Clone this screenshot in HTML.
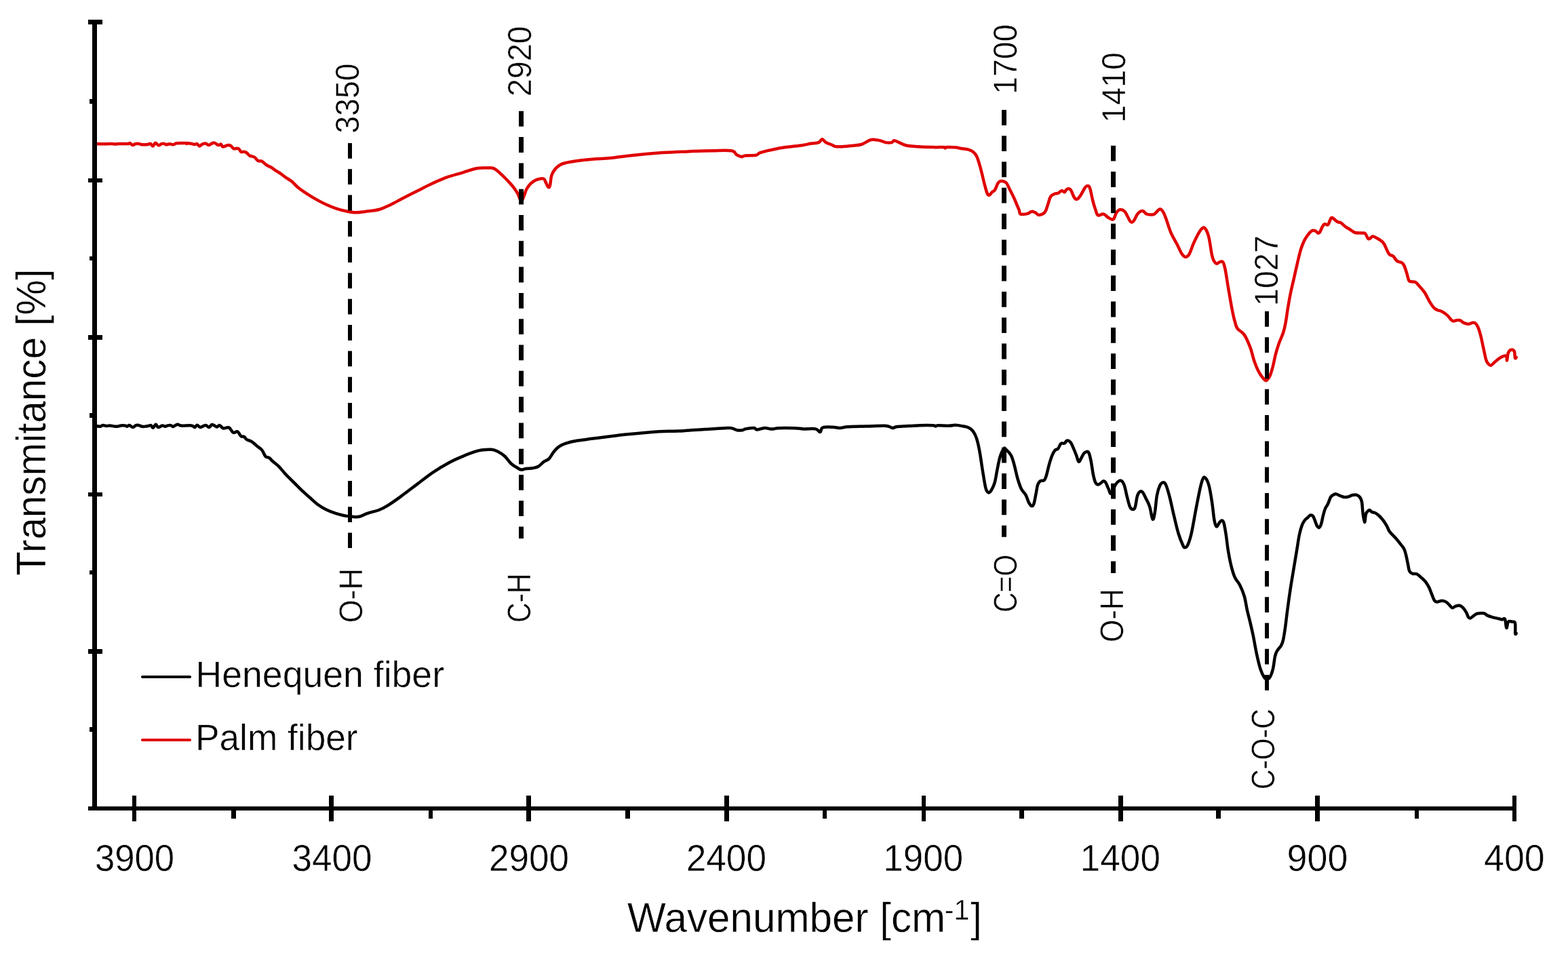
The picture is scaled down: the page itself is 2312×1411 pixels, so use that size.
<!DOCTYPE html>
<html lang="en"><head><meta charset="utf-8"><title>FTIR spectra of henequen and palm fiber</title>
<style>html,body{margin:0;padding:0;background:#fff}svg{display:block}text{font-family:'Liberation Sans', sans-serif;fill:#000;stroke:#fff;stroke-width:0.5;paint-order:fill stroke;text-rendering:geometricPrecision}</style></head><body>
<svg width="2312" height="1411" viewBox="0 0 2312 1411">
<rect width="2312" height="1411" fill="#fff"/>
<path d="M141.1 628.1C142.4 628.2 146.1 629.0 148.0 628.8C149.9 628.6 149.7 627.2 151.5 627.1C153.3 627.0 155.8 628.0 157.7 628.1C159.6 628.2 159.5 627.3 161.8 627.4C164.1 627.5 167.8 628.6 170.1 628.8C172.4 629.0 172.8 628.8 174.3 628.5C175.8 628.2 176.4 627.6 178.4 627.4C180.4 627.2 183.8 627.3 185.4 627.6C187.1 627.9 186.4 628.9 187.4 628.8C188.4 628.7 189.4 626.9 190.9 627.1C192.4 627.3 193.9 629.9 195.7 629.9C197.5 629.9 198.9 627.6 200.6 627.1C202.2 626.6 203.0 626.8 204.7 627.1C206.3 627.4 207.6 628.5 209.6 628.8C211.6 629.1 213.9 628.7 215.8 628.5C217.7 628.3 218.7 627.9 220.0 627.6C221.3 627.3 221.7 626.5 222.7 627.1C223.7 627.7 224.2 631.1 225.5 630.8C226.8 630.5 228.3 625.8 229.7 625.7C231.1 625.6 231.3 629.8 233.1 630.1C234.9 630.4 237.4 627.6 239.3 627.4C241.2 627.2 242.0 628.8 243.5 628.8C245.0 628.8 246.1 627.7 247.6 627.4C249.1 627.1 250.4 626.8 251.8 627.1C253.2 627.4 253.5 629.3 255.3 629.0C257.1 628.7 259.4 626.0 261.5 625.7C263.6 625.4 263.2 627.3 267.0 627.6C270.8 627.9 278.5 626.9 282.2 627.4C285.9 627.9 285.6 630.2 287.1 630.1C288.6 630.0 289.1 626.7 290.6 626.7C292.1 626.7 293.1 629.8 295.4 629.9C297.7 630.0 300.6 627.1 303.0 627.1C305.4 627.1 306.7 630.1 308.5 629.9C310.3 629.7 310.7 626.1 312.7 626.0C314.7 625.9 317.6 629.2 319.6 629.4C321.6 629.6 322.0 626.7 323.8 627.1C325.6 627.5 326.8 630.9 329.3 631.5C331.8 632.1 334.9 629.2 337.6 630.4C340.3 631.6 341.5 636.7 343.8 637.8C346.1 638.9 347.9 635.4 350.1 636.4C352.3 637.4 353.8 642.0 355.6 643.3C357.4 644.6 358.3 642.8 359.8 643.7C361.3 644.6 361.9 646.8 363.9 648.1C365.9 649.4 368.0 649.1 370.8 650.9C373.6 652.7 376.3 655.5 379.1 657.8C381.9 660.1 383.8 660.6 386.1 663.4C388.4 666.2 389.6 670.9 391.6 673.0C393.6 675.1 395.1 673.7 397.1 675.1C399.1 676.5 400.2 678.4 402.7 680.7C405.2 683.0 407.7 684.3 411.0 687.6C414.3 690.9 416.7 694.4 420.7 698.7C424.7 703.0 428.4 706.4 432.8 710.8C437.2 715.2 440.5 718.7 444.9 722.9C449.3 727.1 452.6 729.9 457.0 733.8C461.4 737.7 464.7 741.0 469.1 744.2C473.5 747.4 476.8 749.3 481.2 751.5C485.6 753.7 488.9 754.8 493.3 756.3C497.7 757.8 501.0 758.7 505.4 759.7C509.8 760.7 513.0 761.3 517.5 761.7C522.0 762.1 525.2 762.6 529.7 761.7C534.2 760.8 536.5 758.6 541.8 756.8C547.1 755.0 553.4 754.0 558.7 752.0C564.0 750.0 565.0 749.5 570.8 745.9C576.6 742.3 582.2 738.4 590.2 732.6C598.2 726.8 605.5 721.1 614.4 714.4C623.3 707.7 629.7 702.3 638.6 696.3C647.5 690.3 655.1 685.9 662.9 681.7C670.7 677.5 674.6 676.0 681.1 673.3C687.6 670.5 692.8 668.5 698.1 666.7C703.4 664.9 705.3 664.3 710.2 663.6C715.1 662.9 720.3 662.4 724.7 662.8C729.1 663.2 730.8 664.2 734.4 666.0C738.0 667.8 740.5 669.3 744.1 672.5C747.7 675.7 750.2 680.5 753.8 683.7C757.4 686.9 760.8 688.6 763.5 690.2C766.2 691.8 766.6 692.5 768.8 692.6C771.0 692.7 772.6 691.3 775.6 690.9C778.6 690.5 782.0 690.8 785.3 690.2C788.6 689.6 790.6 689.6 793.7 687.8C796.8 686.0 799.3 682.6 802.2 680.5C805.1 678.4 806.8 679.1 809.5 676.4C812.2 673.7 814.0 669.2 816.7 666.0C819.4 662.8 820.9 660.9 824.0 658.7C827.1 656.5 828.8 655.5 833.7 653.9C838.6 652.3 843.1 651.1 850.7 649.8C858.3 648.5 861.6 648.3 874.9 646.6C888.2 644.9 905.5 642.5 923.3 640.6C941.1 638.7 957.7 637.1 971.8 636.2C985.9 635.3 987.7 636.1 1000.0 635.5C1012.3 634.9 1025.7 633.8 1038.9 633.0C1052.1 632.2 1064.5 631.3 1072.0 631.0C1079.5 630.7 1076.9 631.0 1079.8 631.6C1082.7 632.2 1084.7 634.0 1087.6 634.4C1090.5 634.8 1093.3 634.4 1095.4 634.0C1097.5 633.6 1096.3 632.9 1099.3 632.4C1102.3 631.9 1108.8 630.8 1111.9 631.0C1115.0 631.2 1113.3 633.6 1116.2 633.6C1119.1 633.6 1123.5 631.2 1127.5 631.0C1131.5 630.8 1134.5 632.6 1138.2 632.6C1141.9 632.6 1141.8 631.5 1147.9 631.2C1154.0 630.9 1164.5 631.0 1171.3 631.2C1178.1 631.4 1179.2 632.2 1184.9 632.4C1190.6 632.6 1197.9 631.6 1202.4 632.4C1206.9 633.2 1207.2 637.2 1209.2 636.9C1211.2 636.6 1209.7 631.8 1213.1 630.5C1216.5 629.2 1222.9 629.6 1227.7 629.7C1232.5 629.8 1235.5 631.1 1239.4 631.0C1243.3 630.9 1242.3 629.8 1249.1 629.3C1255.9 628.8 1266.4 628.8 1276.4 628.5C1286.4 628.2 1297.2 627.6 1303.6 627.7C1310.0 627.8 1309.1 628.5 1311.4 629.1C1313.7 629.7 1314.2 631.0 1316.3 631.0C1318.4 631.0 1318.6 629.6 1323.1 629.1C1327.6 628.6 1334.5 628.4 1340.6 628.1C1346.7 627.8 1349.8 627.4 1356.2 627.2C1362.6 627.0 1371.3 627.0 1375.6 627.2C1379.9 627.4 1378.1 628.5 1379.5 628.5C1380.9 628.5 1379.8 627.3 1383.4 627.2C1387.0 627.1 1394.4 627.8 1399.0 627.7C1403.6 627.6 1405.1 626.7 1408.7 626.8C1412.3 626.9 1414.9 627.4 1418.5 628.1C1422.1 628.8 1425.2 629.1 1428.2 630.5C1431.2 631.9 1432.4 632.8 1434.6 635.7C1436.8 638.6 1438.2 641.1 1440.0 646.5C1441.8 651.9 1442.7 656.4 1444.3 664.9C1445.9 673.4 1447.1 683.3 1448.7 693.0C1450.3 702.7 1451.7 712.0 1453.0 717.9C1454.3 723.8 1454.7 723.5 1455.8 725.0C1456.9 726.5 1457.5 726.8 1458.8 726.1C1460.1 725.4 1461.2 724.0 1462.7 721.1C1464.2 718.2 1465.6 715.5 1467.0 710.3C1468.4 705.1 1468.9 699.7 1470.3 693.0C1471.7 686.3 1472.8 679.3 1474.6 673.5C1476.4 667.7 1478.4 663.6 1480.0 661.6C1481.6 659.6 1481.3 660.9 1483.3 662.7C1485.3 664.5 1488.6 667.4 1490.8 671.4C1493.0 675.4 1493.4 678.0 1495.2 684.3C1497.0 690.6 1498.6 699.3 1500.6 706.0C1502.6 712.7 1503.8 716.7 1506.0 721.1C1508.2 725.5 1510.5 726.2 1512.5 729.8C1514.5 733.4 1515.2 737.6 1516.8 740.6C1518.4 743.6 1519.7 745.6 1521.1 746.0C1522.5 746.4 1523.2 746.1 1524.4 742.7C1525.6 739.3 1526.5 732.8 1527.6 727.6C1528.7 722.4 1529.0 718.0 1530.2 714.6C1531.4 711.2 1532.4 710.4 1534.1 709.2C1535.8 708.0 1537.9 709.5 1539.5 708.1C1541.1 706.7 1541.3 706.0 1542.7 701.6C1544.1 697.2 1545.5 689.8 1547.1 684.3C1548.7 678.8 1549.8 675.2 1551.4 671.4C1553.0 667.6 1554.1 665.6 1555.7 663.8C1557.3 662.0 1558.4 663.4 1560.0 661.6C1561.6 659.8 1562.6 655.6 1564.4 654.1C1566.2 652.6 1568.2 654.4 1569.8 653.6C1571.4 652.8 1571.4 650.0 1573.0 649.7C1574.6 649.4 1576.6 649.9 1578.4 651.9C1580.2 653.9 1581.1 657.0 1582.7 660.6C1584.3 664.2 1585.7 667.8 1587.1 671.4C1588.5 675.0 1589.1 679.5 1590.3 680.5C1591.5 681.5 1592.2 678.9 1593.6 676.8C1595.0 674.7 1596.3 670.8 1597.9 668.8C1599.5 666.8 1600.8 666.2 1602.2 666.0C1603.6 665.8 1604.2 664.9 1605.4 667.5C1606.6 670.1 1607.5 674.1 1608.7 680.0C1609.9 685.9 1610.7 693.7 1611.9 699.5C1613.1 705.3 1613.9 708.6 1615.2 711.4C1616.5 714.2 1617.5 714.4 1618.9 714.6C1620.3 714.8 1621.3 713.5 1622.8 712.5C1624.3 711.5 1625.7 709.4 1627.1 709.2C1628.5 709.0 1628.9 709.2 1630.3 711.4C1631.7 713.6 1633.1 718.1 1634.6 721.1C1636.1 724.1 1636.4 728.8 1638.3 727.6C1640.2 726.4 1642.3 718.1 1644.8 714.6C1647.3 711.1 1649.6 708.6 1651.9 708.6C1654.2 708.6 1655.6 710.3 1657.4 714.6C1659.2 718.9 1660.1 725.9 1661.7 731.9C1663.3 737.9 1664.5 743.6 1666.0 747.1C1667.5 750.6 1668.5 750.8 1669.9 751.0C1671.3 751.2 1672.3 751.6 1673.6 748.1C1674.9 744.6 1675.6 736.1 1676.8 731.9C1678.0 727.7 1678.7 726.6 1680.1 725.4C1681.5 724.2 1682.6 723.6 1684.4 725.4C1686.2 727.2 1687.8 731.2 1689.8 735.2C1691.8 739.2 1693.4 741.6 1695.2 747.1C1697.0 752.6 1698.1 763.8 1699.5 765.4C1700.9 767.0 1701.6 762.2 1702.8 755.7C1704.0 749.2 1704.6 737.1 1706.0 729.8C1707.4 722.5 1708.7 719.1 1710.3 715.7C1711.9 712.3 1713.1 711.6 1714.7 711.4C1716.3 711.2 1717.2 710.8 1719.0 714.6C1720.8 718.4 1722.2 723.6 1724.4 731.9C1726.6 740.2 1728.5 750.1 1730.9 760.0C1733.3 769.9 1735.0 778.1 1737.4 786.0C1739.8 793.9 1742.1 799.4 1743.9 803.3C1745.7 807.2 1745.7 807.2 1747.1 807.2C1748.5 807.2 1749.6 807.2 1751.4 803.3C1753.2 799.4 1754.6 795.5 1756.8 786.0C1759.0 776.5 1760.9 763.7 1763.3 751.4C1765.7 739.1 1767.8 727.4 1769.8 718.9C1771.8 710.4 1772.5 707.3 1774.1 704.9C1775.7 702.5 1776.9 703.8 1778.5 706.0C1780.1 708.2 1781.2 710.5 1782.8 716.8C1784.4 723.1 1785.7 731.5 1787.1 740.6C1788.5 749.7 1789.2 760.0 1790.4 766.5C1791.6 773.0 1792.2 775.5 1793.6 776.3C1795.0 777.1 1796.5 772.4 1797.9 770.8C1799.3 769.2 1800.0 767.6 1801.2 767.6C1802.4 767.6 1803.2 767.0 1804.4 770.8C1805.6 774.6 1806.5 780.6 1807.7 788.1C1808.9 795.6 1809.5 803.6 1810.9 811.9C1812.3 820.2 1813.4 826.5 1815.2 833.6C1817.0 840.8 1818.2 845.5 1820.6 850.9C1823.0 856.3 1825.6 857.6 1828.2 862.8C1830.8 868.0 1832.7 872.2 1834.7 879.0C1836.7 885.8 1837.4 893.0 1839.0 900.0C1840.6 907.0 1841.7 910.6 1843.3 917.3C1844.9 924.0 1845.9 928.1 1847.7 936.8C1849.5 945.5 1851.1 955.8 1853.1 964.9C1855.1 974.0 1856.5 980.4 1858.5 986.5C1860.5 992.6 1862.1 995.7 1863.9 998.4C1865.7 1001.1 1866.6 1001.2 1868.2 1001.2C1869.8 1001.2 1870.9 1001.1 1872.5 998.4C1874.1 995.7 1875.5 992.1 1876.9 986.5C1878.3 980.9 1878.9 972.7 1880.0 967.8C1881.1 962.9 1881.3 962.7 1883.0 959.8C1884.7 956.9 1887.3 954.7 1889.0 951.8C1890.7 948.9 1890.9 948.6 1892.0 943.8C1893.1 939.0 1893.9 933.5 1895.0 925.8C1896.1 918.1 1896.9 910.2 1898.0 901.8C1899.1 893.4 1899.9 887.5 1901.0 879.8C1902.1 872.1 1902.7 867.9 1904.0 859.9C1905.3 851.9 1906.5 844.7 1908.0 835.9C1909.5 827.1 1910.5 820.7 1912.0 811.9C1913.5 803.1 1914.5 794.9 1916.0 787.9C1917.5 780.9 1918.5 777.8 1920.0 773.9C1921.5 770.0 1922.3 769.0 1924.0 766.9C1925.7 764.8 1927.5 763.7 1929.0 762.3C1930.5 760.9 1931.0 759.7 1932.3 759.5C1933.6 759.3 1934.8 759.5 1936.0 761.0C1937.2 762.5 1937.9 765.2 1939.0 767.9C1940.1 770.6 1940.9 773.7 1942.0 775.5C1943.1 777.3 1943.9 778.4 1945.0 777.9C1946.1 777.4 1946.9 776.2 1948.0 772.9C1949.1 769.6 1949.9 764.1 1951.0 759.9C1952.1 755.7 1952.7 753.1 1954.0 750.0C1955.3 746.9 1956.5 746.1 1958.0 743.0C1959.5 739.9 1960.5 735.5 1962.0 733.0C1963.5 730.5 1964.5 730.4 1966.0 729.6C1967.5 728.8 1968.2 728.1 1970.0 728.4C1971.8 728.7 1973.8 730.2 1976.0 731.0C1978.2 731.8 1979.8 732.7 1982.0 733.0C1984.2 733.3 1985.8 732.9 1988.0 732.4C1990.2 731.9 1991.8 730.5 1994.0 730.0C1996.2 729.5 1998.0 729.1 2000.0 729.6C2002.0 730.1 2003.5 731.1 2005.0 733.0C2006.5 734.9 2007.2 735.8 2008.0 740.0C2008.8 744.2 2008.8 750.5 2009.5 756.0C2010.2 761.5 2011.2 769.6 2012.0 769.9C2012.8 770.2 2013.1 760.9 2014.0 757.9C2014.9 754.9 2016.0 754.6 2017.0 753.5C2018.0 752.4 2018.4 751.7 2019.5 752.0C2020.6 752.3 2021.4 754.2 2023.0 755.0C2024.6 755.8 2026.0 755.3 2028.0 756.4C2030.0 757.5 2031.8 758.9 2034.0 761.0C2036.2 763.1 2038.0 765.2 2040.0 767.9C2042.0 770.6 2043.3 773.0 2045.0 775.9C2046.7 778.8 2046.6 780.7 2049.0 783.9C2051.4 787.1 2055.2 790.4 2058.0 793.5C2060.8 796.6 2061.8 798.1 2064.0 800.9C2066.2 803.7 2068.3 805.8 2070.0 808.9C2071.7 812.0 2071.9 813.7 2073.0 817.9C2074.1 822.1 2075.0 827.5 2076.0 831.9C2077.0 836.3 2076.9 839.3 2078.2 841.9C2079.5 844.5 2081.0 845.1 2083.0 845.9C2085.0 846.7 2086.6 845.2 2089.0 846.3C2091.4 847.4 2093.6 849.8 2096.0 851.9C2098.4 854.0 2100.0 855.3 2102.0 857.9C2104.0 860.5 2105.3 862.6 2107.0 865.9C2108.7 869.2 2109.5 872.2 2111.0 875.8C2112.5 879.4 2113.5 883.3 2115.0 885.4C2116.5 887.5 2117.0 887.3 2119.0 887.4C2121.0 887.5 2123.6 885.8 2126.0 885.8C2128.4 885.8 2130.0 886.3 2132.0 887.4C2134.0 888.5 2135.3 890.2 2137.0 891.8C2138.7 893.4 2139.8 895.8 2141.4 896.2C2143.1 896.6 2144.1 894.4 2146.0 893.8C2147.9 893.2 2150.0 892.4 2152.0 892.8C2154.0 893.2 2155.2 894.0 2157.0 895.8C2158.8 897.6 2160.5 900.2 2162.0 902.8C2163.5 905.4 2163.9 908.2 2165.0 909.8C2166.1 911.4 2166.5 911.8 2168.0 911.4C2169.5 911.0 2171.2 909.0 2173.0 907.8C2174.8 906.6 2175.2 905.5 2178.0 904.8C2180.8 904.1 2185.2 903.7 2188.0 904.2C2190.8 904.7 2190.8 906.4 2193.0 907.4C2195.2 908.4 2196.9 908.9 2200.0 909.8C2203.1 910.7 2207.2 911.5 2210.0 912.2C2212.8 912.9 2213.3 913.3 2215.0 913.4C2216.7 913.5 2217.8 910.5 2219.0 912.8C2220.2 915.1 2220.4 925.1 2221.3 925.8C2222.2 926.5 2222.4 918.4 2224.0 916.8C2225.6 915.1 2228.2 916.4 2230.0 916.8C2231.8 917.2 2233.2 915.7 2234.0 918.8C2234.8 921.9 2234.0 931.0 2234.3 933.8C2234.6 936.5 2235.4 933.8 2235.7 933.8" fill="none" stroke="#000" stroke-width="4.5" stroke-linejoin="round" stroke-linecap="round"/>
<path d="M140.4 211.9C143.1 212.0 150.5 212.2 154.9 212.2C159.3 212.2 161.8 211.9 164.6 211.9C167.4 211.9 168.1 212.4 170.1 212.4C172.1 212.4 172.1 212.0 175.7 211.9C179.3 211.8 186.6 212.1 189.5 211.9C192.4 211.7 190.5 210.6 191.6 211.0C192.7 211.4 194.3 213.8 195.7 214.0C197.1 214.2 197.5 212.6 199.2 212.2C200.8 211.8 202.9 211.7 204.7 211.9C206.5 212.1 206.9 213.0 208.9 213.2C210.9 213.4 213.8 213.4 215.8 213.2C217.8 213.0 218.9 212.4 220.0 212.2C221.1 212.0 221.0 211.3 222.0 211.9C223.0 212.5 224.2 215.6 225.5 215.4C226.8 215.2 227.5 211.0 229.0 210.8C230.5 210.6 232.2 214.0 233.8 214.3C235.5 214.6 236.5 212.6 238.0 212.2C239.5 211.8 240.8 211.7 242.1 211.9C243.4 212.1 243.4 213.1 244.9 213.2C246.4 213.3 248.6 212.2 250.4 212.2C252.2 212.2 253.3 213.1 254.6 213.2C255.9 213.3 256.3 213.0 257.3 212.6C258.3 212.2 257.1 211.5 260.1 211.2C263.1 210.9 271.1 211.0 273.9 211.1C276.7 211.2 274.8 211.9 275.3 211.9C275.8 211.9 275.2 210.9 276.7 211.0C278.2 211.1 281.8 211.9 283.6 212.2C285.4 212.5 285.1 212.9 286.4 212.9C287.7 212.9 289.2 211.7 290.6 212.2C292.0 212.7 292.6 215.3 294.0 215.4C295.4 215.5 296.6 213.3 298.2 212.6C299.8 211.9 301.2 211.2 303.0 211.5C304.8 211.8 306.4 213.9 307.9 214.0C309.4 214.1 309.8 212.8 311.3 212.2C312.8 211.6 314.3 210.3 316.2 210.6C318.1 210.9 319.9 213.6 321.7 214.0C323.5 214.4 324.5 212.2 325.8 212.6C327.1 213.0 326.7 216.1 328.6 216.4C330.5 216.7 334.0 214.3 336.2 214.0C338.4 213.7 338.9 214.1 340.4 215.0C341.9 215.9 342.5 218.3 344.5 219.1C346.5 219.9 349.5 218.2 351.5 219.1C353.5 220.0 354.1 223.2 355.6 224.0C357.1 224.8 358.3 223.4 359.8 223.7C361.3 224.0 362.4 224.3 363.9 225.4C365.4 226.5 366.1 228.4 368.1 229.5C370.1 230.6 372.7 230.2 375.0 231.6C377.3 233.0 378.5 236.0 380.5 237.1C382.5 238.2 383.8 236.6 386.1 237.8C388.4 239.0 390.5 241.8 393.0 243.4C395.5 245.1 397.4 245.3 399.9 246.8C402.4 248.3 404.3 250.0 406.8 251.7C409.3 253.3 411.2 254.0 413.7 255.8C416.2 257.6 417.7 259.1 420.7 261.3C423.7 263.5 426.9 264.8 430.3 267.6C433.7 270.4 435.2 273.0 439.5 276.4C443.8 279.8 448.4 283.0 453.6 286.4C458.8 289.8 462.6 292.0 467.8 294.9C473.0 297.8 476.8 299.7 482.0 302.0C487.2 304.3 491.0 305.9 496.2 307.6C501.4 309.3 505.1 310.3 510.3 311.3C515.5 312.3 519.3 313.2 524.5 313.3C529.7 313.4 532.5 312.7 538.7 311.9C544.9 311.1 551.7 310.8 558.5 309.0C565.3 307.2 569.0 305.1 575.6 302.0C582.2 298.9 587.1 295.8 594.6 292.0C602.1 288.2 608.4 285.1 616.3 281.1C624.2 277.1 630.0 273.9 637.9 270.3C645.8 266.7 651.6 264.0 659.5 261.2C667.4 258.4 673.6 257.1 681.1 254.8C688.6 252.5 695.0 250.0 700.6 248.7C706.2 247.4 707.0 247.8 711.4 247.6C715.8 247.4 720.8 247.2 724.4 247.6C728.0 248.0 728.1 248.0 730.9 249.8C733.7 251.6 736.3 254.4 739.5 257.4C742.7 260.4 745.0 262.6 748.2 266.0C751.4 269.4 754.0 272.1 756.8 275.7C759.6 279.3 761.2 281.8 763.3 285.5C765.4 289.2 766.7 295.6 768.5 296.0C770.3 296.4 771.7 290.7 773.1 287.6C774.5 284.5 774.5 282.2 776.3 279.0C778.1 275.8 780.0 272.9 782.8 270.3C785.6 267.7 788.0 266.2 791.4 264.9C794.8 263.6 798.8 262.8 801.2 263.4C803.6 264.0 803.1 265.9 804.4 268.2C805.7 270.5 807.1 274.7 808.3 275.7C809.5 276.7 810.0 276.6 810.9 273.6C811.8 270.6 811.9 263.7 813.1 259.5C814.3 255.3 815.4 253.7 817.4 250.9C819.4 248.1 821.1 246.3 823.9 244.4C826.7 242.5 826.9 241.9 832.5 240.5C838.1 239.1 846.3 237.9 854.2 236.8C862.1 235.7 867.4 235.3 875.8 234.6C884.2 233.9 890.4 234.1 900.0 233.1C909.6 232.1 914.3 230.9 928.4 229.4C942.5 227.9 961.4 226.2 976.9 225.1C992.4 224.0 999.9 223.9 1013.2 223.4C1026.5 222.9 1037.6 222.4 1049.6 222.2C1061.6 222.0 1071.9 221.1 1078.6 222.2C1085.3 223.3 1083.2 226.4 1085.9 228.0C1088.6 229.6 1090.7 230.8 1093.1 231.1C1095.5 231.4 1095.2 229.8 1099.2 229.4C1103.2 229.0 1111.1 229.4 1114.9 228.7C1118.7 228.0 1117.1 226.7 1119.8 225.6C1122.5 224.5 1123.3 224.1 1129.5 222.7C1135.7 221.3 1143.9 219.4 1153.7 217.8C1163.5 216.2 1175.2 215.3 1182.8 214.2C1190.4 213.1 1190.5 212.6 1194.9 211.8C1199.3 211.0 1203.8 211.3 1207.0 210.1C1210.2 208.9 1210.3 205.2 1212.3 205.2C1214.3 205.2 1215.3 208.6 1217.9 210.1C1220.5 211.6 1223.7 212.4 1226.4 213.5C1229.1 214.6 1229.3 215.6 1232.4 216.1C1235.5 216.6 1239.1 216.3 1243.3 216.1C1247.5 215.9 1250.5 215.5 1255.4 214.9C1260.3 214.3 1264.9 214.6 1270.0 213.0C1275.1 211.4 1279.3 207.6 1283.3 206.4C1287.3 205.2 1288.9 206.0 1291.8 206.2C1294.7 206.4 1296.3 206.9 1299.0 207.6C1301.7 208.3 1303.4 209.6 1306.3 210.1C1309.2 210.6 1312.6 210.6 1314.8 210.1C1317.0 209.6 1316.4 207.2 1318.4 207.2C1320.4 207.2 1322.6 208.8 1325.7 210.1C1328.8 211.4 1331.0 213.1 1335.4 214.2C1339.8 215.3 1342.4 215.4 1349.9 215.9C1357.4 216.4 1368.9 216.9 1376.5 217.1C1384.1 217.3 1388.0 216.8 1391.1 217.1C1394.2 217.4 1392.6 218.5 1393.5 218.5C1394.4 218.5 1393.2 217.3 1395.9 217.1C1398.6 216.9 1404.0 217.0 1408.0 217.3C1412.0 217.6 1414.0 218.4 1417.7 219.0C1421.4 219.6 1425.0 219.7 1428.1 220.6C1431.2 221.5 1432.4 222.0 1434.6 223.8C1436.8 225.6 1438.0 226.1 1440.0 230.3C1442.0 234.5 1443.2 238.8 1445.4 246.5C1447.6 254.2 1450.0 265.4 1451.9 272.5C1453.8 279.6 1454.5 282.7 1455.8 285.5C1457.1 288.3 1457.5 288.0 1458.8 287.6C1460.1 287.2 1461.2 284.7 1462.7 283.3C1464.2 281.9 1465.4 282.4 1467.0 280.0C1468.6 277.6 1469.8 272.7 1471.4 270.3C1473.0 267.9 1473.5 267.3 1475.7 267.1C1477.9 266.9 1480.9 267.0 1483.3 269.2C1485.7 271.4 1486.5 274.8 1488.7 279.0C1490.9 283.2 1493.0 287.3 1495.2 292.0C1497.4 296.7 1499.2 301.7 1500.6 304.9C1502.0 308.1 1501.9 307.7 1502.7 309.7C1503.5 311.7 1502.7 314.6 1504.9 315.6C1507.1 316.6 1511.6 315.8 1514.6 315.1C1517.6 314.4 1518.9 312.2 1521.1 311.9C1523.3 311.6 1524.5 312.5 1526.5 313.4C1528.5 314.3 1529.3 317.0 1531.9 316.9C1534.5 316.8 1538.2 315.7 1540.6 313.0C1543.0 310.3 1543.3 306.5 1544.9 302.2C1546.5 297.9 1547.2 292.9 1549.2 289.8C1551.2 286.7 1553.7 286.4 1555.7 285.5C1557.7 284.6 1558.2 285.8 1560.0 285.0C1561.8 284.2 1563.6 281.4 1565.4 281.1C1567.2 280.8 1568.4 283.7 1569.8 283.3C1571.2 282.9 1571.4 279.7 1573.0 279.0C1574.6 278.3 1576.4 277.2 1578.4 279.4C1580.4 281.6 1582.0 288.3 1583.8 290.9C1585.6 293.5 1586.3 294.3 1588.1 293.7C1589.9 293.1 1591.4 290.8 1593.6 287.6C1595.8 284.4 1598.0 278.9 1600.0 276.4C1602.0 273.9 1603.1 273.9 1604.4 274.2C1605.7 274.5 1606.0 274.3 1607.2 277.9C1608.4 281.5 1609.8 289.7 1610.9 294.1C1612.0 298.5 1612.2 299.3 1613.0 302.0C1613.8 304.7 1614.1 305.9 1615.2 308.7C1616.3 311.5 1616.7 316.0 1618.9 317.3C1621.1 318.6 1624.4 315.0 1627.1 315.6C1629.8 316.2 1631.4 319.1 1633.6 320.5C1635.8 321.9 1637.4 323.0 1639.0 323.4C1640.6 323.8 1640.8 324.6 1642.2 322.7C1643.6 320.8 1644.7 315.5 1646.5 313.0C1648.3 310.5 1649.7 309.3 1651.9 309.1C1654.1 308.9 1656.4 310.0 1658.4 311.9C1660.4 313.8 1661.2 316.7 1662.8 319.5C1664.4 322.3 1665.5 325.8 1667.1 327.0C1668.7 328.2 1669.6 328.0 1671.4 326.0C1673.2 324.0 1675.0 318.8 1676.8 316.2C1678.6 313.6 1679.5 312.8 1681.1 311.9C1682.7 311.0 1683.7 310.5 1685.5 311.2C1687.3 311.9 1688.1 314.7 1690.9 315.6C1693.7 316.5 1698.0 316.7 1700.6 316.2C1703.2 315.7 1703.1 314.5 1704.9 313.0C1706.7 311.5 1708.5 308.4 1710.3 308.2C1712.1 308.0 1713.1 309.4 1714.7 311.9C1716.3 314.4 1716.8 315.8 1719.0 321.6C1721.2 327.4 1723.6 336.4 1726.6 343.3C1729.6 350.2 1732.2 353.8 1735.2 359.5C1738.2 365.2 1740.4 371.0 1742.8 374.6C1745.2 378.2 1746.2 378.9 1748.2 378.9C1750.2 378.9 1751.4 378.4 1753.6 374.6C1755.8 370.8 1757.5 364.1 1760.1 358.4C1762.7 352.7 1765.2 347.4 1767.6 343.3C1770.0 339.2 1771.3 337.4 1773.1 336.3C1774.9 335.2 1775.7 334.7 1777.4 337.2C1779.1 339.7 1780.6 342.4 1782.4 349.7C1784.2 357.0 1785.6 370.3 1787.1 376.8C1788.6 383.3 1789.1 383.2 1790.4 385.4C1791.7 387.6 1792.4 388.6 1794.0 388.7C1795.6 388.8 1797.3 386.5 1799.0 386.1C1800.7 385.7 1801.9 384.4 1803.3 386.5C1804.7 388.6 1805.2 390.6 1806.6 397.3C1808.0 404.0 1808.9 411.8 1810.9 423.3C1812.9 434.8 1815.4 450.1 1817.4 460.0C1819.4 469.9 1820.3 472.7 1821.7 477.3C1823.1 481.9 1822.6 481.9 1825.0 484.9C1827.4 487.9 1831.3 488.7 1834.7 493.6C1838.1 498.6 1840.5 504.6 1843.3 511.9C1846.1 519.2 1847.4 526.9 1849.8 533.6C1852.2 540.3 1853.5 543.8 1856.3 548.7C1859.1 553.6 1862.7 558.2 1865.0 560.2C1867.3 562.2 1867.5 560.8 1869.0 559.4C1870.5 558.0 1871.5 556.4 1873.0 552.8C1874.5 549.2 1875.5 545.5 1877.0 539.8C1878.5 534.1 1879.3 528.0 1881.0 521.8C1882.7 515.6 1884.0 511.5 1886.0 505.8C1888.0 500.1 1890.2 496.3 1892.0 490.8C1893.8 485.3 1894.3 482.7 1895.6 475.9C1896.9 469.1 1897.6 462.0 1899.0 453.9C1900.4 445.8 1901.3 440.0 1903.0 431.9C1904.7 423.8 1906.2 418.0 1908.0 409.9C1909.8 401.8 1911.2 395.6 1913.0 387.9C1914.8 380.2 1916.2 373.9 1918.0 367.9C1919.8 361.9 1921.2 358.8 1923.0 355.0C1924.8 351.2 1926.0 349.7 1928.0 347.0C1930.0 344.3 1931.8 341.6 1934.0 340.4C1936.2 339.2 1938.3 340.0 1940.0 340.6C1941.7 341.2 1941.9 343.3 1943.0 343.6C1944.1 343.9 1944.7 344.2 1946.0 342.4C1947.3 340.6 1948.7 336.2 1950.0 334.0C1951.3 331.8 1951.5 330.9 1953.0 330.4C1954.5 329.9 1956.5 332.4 1958.0 331.4C1959.5 330.4 1959.9 326.9 1961.0 325.0C1962.1 323.1 1962.0 320.6 1964.0 321.0C1966.0 321.4 1969.6 325.6 1972.0 327.0C1974.4 328.4 1974.8 327.0 1977.0 328.4C1979.2 329.8 1981.6 332.6 1984.0 334.4C1986.4 336.2 1987.4 336.4 1990.0 338.0C1992.6 339.6 1994.7 342.0 1998.0 343.0C2001.3 344.0 2005.2 343.3 2008.0 343.6C2010.8 343.9 2011.3 342.9 2013.0 344.4C2014.7 345.9 2015.7 350.3 2017.0 351.6C2018.3 352.9 2018.7 352.2 2020.0 351.6C2021.3 351.0 2022.2 348.5 2024.0 348.4C2025.8 348.3 2027.6 349.7 2030.0 351.0C2032.4 352.3 2035.0 354.0 2037.0 355.6C2039.0 357.2 2039.0 356.6 2041.0 360.0C2043.0 363.4 2045.6 371.1 2048.0 374.3C2050.4 377.5 2051.8 375.6 2054.0 377.5C2056.2 379.4 2057.8 383.2 2060.0 384.9C2062.2 386.6 2064.2 385.8 2066.0 386.9C2067.8 388.0 2068.5 388.1 2070.0 390.9C2071.5 393.6 2072.6 397.8 2074.0 401.9C2075.4 406.0 2075.9 411.0 2077.4 413.5C2078.9 416.0 2080.2 414.9 2082.0 415.3C2083.8 415.7 2085.2 414.9 2087.0 415.9C2088.8 416.9 2090.0 418.7 2092.0 420.9C2094.0 423.1 2096.2 425.6 2098.0 427.9C2099.8 430.2 2100.2 430.4 2102.0 433.5C2103.8 436.6 2105.8 441.2 2108.0 444.9C2110.2 448.6 2112.0 451.3 2114.0 453.5C2116.0 455.7 2116.8 455.8 2119.0 456.9C2121.2 458.0 2123.2 457.8 2126.0 459.3C2128.8 460.8 2131.4 462.6 2134.0 464.9C2136.6 467.2 2138.3 470.3 2140.0 471.9C2141.7 473.5 2141.5 473.4 2143.0 473.5C2144.5 473.6 2146.2 472.5 2148.0 472.3C2149.8 472.1 2151.2 471.6 2153.0 472.3C2154.8 473.0 2155.8 474.9 2158.0 475.9C2160.2 476.9 2162.6 477.8 2165.0 477.8C2167.4 477.8 2169.2 476.2 2171.0 475.9C2172.8 475.6 2173.5 475.2 2175.0 476.3C2176.5 477.4 2177.5 478.6 2179.0 481.8C2180.5 485.0 2181.5 488.3 2183.0 493.8C2184.5 499.3 2185.5 505.2 2187.0 511.8C2188.5 518.4 2189.7 525.4 2191.0 529.8C2192.3 534.2 2192.7 534.1 2194.0 535.8C2195.3 537.4 2196.3 539.0 2198.0 538.8C2199.7 538.6 2200.8 536.6 2203.0 534.8C2205.2 533.0 2207.6 530.5 2210.0 528.8C2212.4 527.1 2214.0 526.1 2216.0 525.4C2218.0 524.7 2219.9 523.7 2221.0 524.8C2222.1 525.9 2221.5 532.1 2222.0 531.4C2222.5 530.7 2222.7 523.7 2223.7 520.8C2224.7 517.9 2226.0 516.3 2227.7 515.8C2229.3 515.2 2231.5 515.6 2232.7 517.8C2233.9 520.0 2233.4 526.1 2234.0 527.8C2234.6 529.4 2235.4 527.0 2235.7 526.8" fill="none" stroke="#e00000" stroke-width="4.5" stroke-linejoin="round" stroke-linecap="round"/>
<g shape-rendering="crispEdges">
<rect x="136" y="29" width="7" height="1166" fill="#000"/>
<rect x="130" y="1189" width="2106" height="6" fill="#000"/>
<rect x="195" y="1173" width="6" height="38" fill="#000"/>
<rect x="485" y="1173" width="7" height="38" fill="#000"/>
<rect x="776" y="1173" width="7" height="38" fill="#000"/>
<rect x="1068" y="1173" width="7" height="38" fill="#000"/>
<rect x="1359" y="1173" width="6" height="38" fill="#000"/>
<rect x="1649" y="1173" width="7" height="38" fill="#000"/>
<rect x="1939" y="1173" width="7" height="38" fill="#000"/>
<rect x="2230" y="1173" width="6" height="38" fill="#000"/>
<rect x="341" y="1192" width="7" height="15" fill="#000"/>
<rect x="632" y="1192" width="6" height="15" fill="#000"/>
<rect x="922" y="1192" width="7" height="15" fill="#000"/>
<rect x="1213" y="1192" width="6" height="15" fill="#000"/>
<rect x="1503" y="1192" width="7" height="15" fill="#000"/>
<rect x="1793" y="1192" width="7" height="15" fill="#000"/>
<rect x="2086" y="1192" width="6" height="15" fill="#000"/>
<rect x="130" y="29" width="21" height="7" fill="#000"/>
<rect x="130" y="263" width="21" height="6" fill="#000"/>
<rect x="130" y="494" width="21" height="7" fill="#000"/>
<rect x="130" y="726" width="21" height="6" fill="#000"/>
<rect x="130" y="957" width="21" height="7" fill="#000"/>
<rect x="132" y="146" width="8" height="7" fill="#000"/>
<rect x="132" y="378" width="8" height="6" fill="#000"/>
<rect x="132" y="609" width="8" height="7" fill="#000"/>
<rect x="132" y="841" width="8" height="6" fill="#000"/>
<rect x="132" y="1072" width="8" height="7" fill="#000"/>
</g>
<line x1="516.0" y1="211.0" x2="516.0" y2="807.9" stroke="#000" stroke-width="6" stroke-dasharray="22.8 15.5"/>
<line x1="768.5" y1="163.8" x2="768.5" y2="793.9" stroke="#000" stroke-width="7" stroke-dasharray="22.8 15.5"/>
<line x1="1480.5" y1="161.9" x2="1480.5" y2="791.8" stroke="#000" stroke-width="7" stroke-dasharray="22.8 15.5"/>
<line x1="1641.5" y1="214.8" x2="1641.5" y2="845.0" stroke="#000" stroke-width="7" stroke-dasharray="22.8 15.5"/>
<line x1="1868.0" y1="458.9" x2="1868.0" y2="1017.9" stroke="#000" stroke-width="6" stroke-dasharray="22.8 15.5"/>
<line x1="210" y1="998" x2="280" y2="998" stroke="#000" stroke-width="4.2" stroke-linecap="round"/>
<line x1="210" y1="1091" x2="280" y2="1091" stroke="#e00000" stroke-width="4.2" stroke-linecap="round"/>
<g>
<text transform="translate(139.88,1284.00) scale(0.9534,1)" font-size="55.30">3900</text>
<text transform="translate(430.46,1284.00) scale(0.9600,1)" font-size="55.30">3400</text>
<text transform="translate(721.05,1284.00) scale(0.9591,1)" font-size="55.30">2900</text>
<text transform="translate(1011.64,1284.00) scale(0.9625,1)" font-size="55.30">2400</text>
<text transform="translate(1302.31,1284.00) scale(0.9575,1)" font-size="55.30">1900</text>
<text transform="translate(1592.81,1284.00) scale(0.9601,1)" font-size="55.30">1400</text>
<text transform="translate(1897.56,1284.00) scale(0.9737,1)" font-size="55.30">900</text>
<text transform="translate(2188.11,1284.00) scale(0.9705,1)" font-size="55.30">400</text>
<text transform="translate(288.54,1013.00) scale(0.9889,1)" font-size="54.20">Henequen fiber</text>
<text transform="translate(287.99,1106.00) scale(0.9823,1)" font-size="54.20">Palm fiber</text>
<text transform="translate(924.92,1374.00) scale(0.9802,1)" font-size="61.40">Wavenumber [cm<tspan x="477.25" dy="-18.00" font-size="42.30">-1</tspan><tspan x="516.56" dy="18.00" font-size="61.40">]</tspan></text>
<text transform="translate(67.00,848.54) rotate(-90) scale(0.9510,1)" font-size="61.40">Transmitance [%]</text>
<text transform="translate(529.00,196.82) rotate(-90) scale(0.9488,1)" font-size="49.00">3350</text>
<text transform="translate(783.00,142.34) rotate(-90) scale(0.9536,1)" font-size="49.00">2920</text>
<text transform="translate(1499.00,138.87) rotate(-90) scale(0.9459,1)" font-size="49.00">1700</text>
<text transform="translate(1659.00,180.65) rotate(-90) scale(0.9504,1)" font-size="49.00">1410</text>
<text transform="translate(1884.00,451.16) rotate(-90) scale(0.9541,1)" font-size="49.00">1027</text>
<text transform="translate(534.00,918.24) rotate(-90) scale(0.9044,1)" font-size="48.40">O-H</text>
<text transform="translate(782.00,918.10) rotate(-90) scale(0.8459,1)" font-size="48.40">C-H</text>
<text transform="translate(1499.00,903.10) rotate(-90) scale(0.8488,1)" font-size="48.40">C=O</text>
<text transform="translate(1656.00,946.95) rotate(-90) scale(0.8892,1)" font-size="48.40">O-H</text>
<text transform="translate(1879.00,1164.05) rotate(-90) scale(0.8525,1)" font-size="48.40">C-O-C</text>
</g>
</svg></body></html>
